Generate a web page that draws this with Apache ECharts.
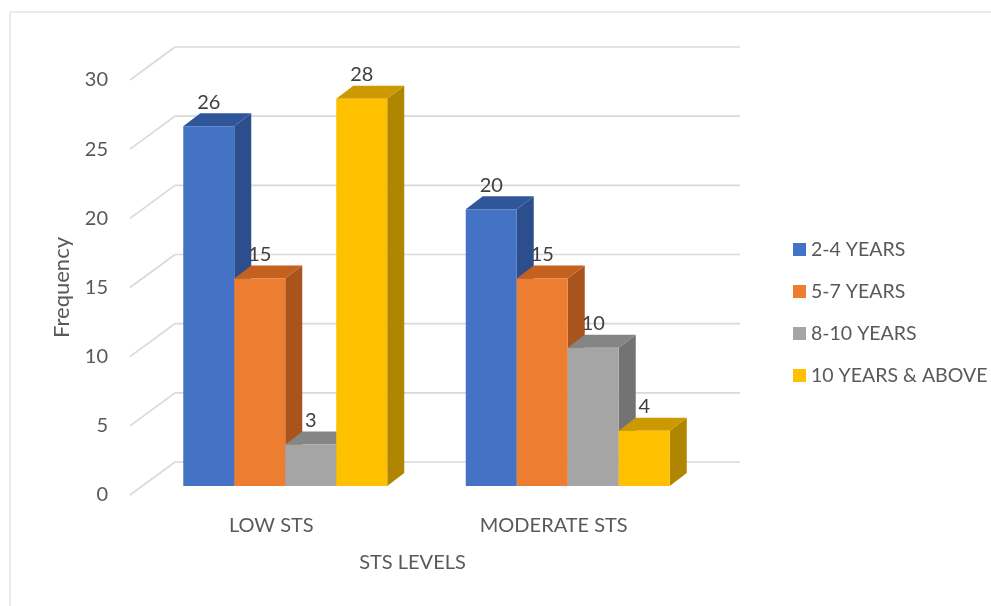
<!DOCTYPE html>
<html>
<head>
<meta charset="utf-8">
<title>STS levels by years of experience</title>
<script src="https://cdn.jsdelivr.net/npm/echarts@6/dist/echarts.min.js"></script>
<style>
  html, body { margin: 0; padding: 0; background: #ffffff; }
  #chart { width: 991px; height: 606px; }
</style>
</head>
<body>
<div id="chart"></div>
<script>
// ---- data ----
const categories = ['LOW STS', 'MODERATE STS'];
const seriesNames = ['2-4 YEARS', '5-7 YEARS', '8-10 YEARS', '10 YEARS & ABOVE'];
const years2to4 = [26, 20];
const years5to7 = [15, 15];
const years8to10 = [3, 10];
const years10plus = [28, 4];
const yTicks = [0, 5, 10, 15, 20, 25, 30];

// ---- look ----
const FONT = 'Lato';
const TEXT = '#595959';
const GRID_LINE = '#D9D9D9';
// face colours: front, top, side
const palette = [
  ['#4472C4', '#30569A', '#2C4E8C'],
  ['#ED7D31', '#C4611F', '#A9541C'],
  ['#A5A5A5', '#858585', '#737373'],
  ['#FFC000', '#CC9A00', '#B08500']
];
// depth of the plot box (front edge -> back wall)
const WALL_DX = 45, WALL_DY = -33;
// bars sit a little behind the front edge
const BAR_SHIFT_X = 14, BAR_SHIFT_Y = -9;
// depth of each bar
const BAR_DX = 17, BAR_DY = -13;
const BAR_RATIO = 0.1805;

const values = [years2to4, years5to7, years8to10, years10plus];

function wallRenderer(params, api) {
  const cs = params.coordSys;
  const v = api.value(1);
  const y = api.coord([0, v])[1];
  const x0 = cs.x;
  const bx = x0 + WALL_DX, by = y + WALL_DY;
  const style = { stroke: GRID_LINE, lineWidth: 1.6, fill: null };
  return {
    type: 'group',
    children: [
      { type: 'line', shape: { x1: x0, y1: y, x2: bx, y2: by }, style: style },
      { type: 'line', shape: { x1: bx, y1: by, x2: cs.x + cs.width + WALL_DX, y2: by }, style: style }
    ]
  };
}

function barRenderer(k) {
  const c = palette[k];
  return function (params, api) {
    const i = api.value(0);
    const v = api.value(1);
    const top = api.coord([i, v]);
    const base = api.coord([i, 0]);
    const band = api.size([1, 0])[0];
    const bw = band * BAR_RATIO;
    const x0 = top[0] + BAR_SHIFT_X - 2 * bw + k * bw;
    const x1 = x0 + bw;
    const yT = top[1] + BAR_SHIFT_Y;
    const yB = base[1] + BAR_SHIFT_Y;
    return {
      type: 'group',
      children: [
        {
          type: 'polygon',
          shape: { points: [[x1, yT], [x1 + BAR_DX, yT + BAR_DY], [x1 + BAR_DX, yB + BAR_DY], [x1, yB]] },
          style: { fill: c[2] }
        },
        {
          type: 'polygon',
          shape: { points: [[x0, yT], [x1, yT], [x1 + BAR_DX, yT + BAR_DY], [x0 + BAR_DX, yT + BAR_DY]] },
          style: { fill: c[1] }
        },
        {
          type: 'rect',
          shape: { x: x0, y: yT, width: bw, height: yB - yT },
          style: { fill: c[0] }
        },
        {
          type: 'text',
          x: x0 + bw / 2,
          y: yT + BAR_DY - 11,
          style: {
            text: String(v),
            align: 'center',
            verticalAlign: 'middle',
            fill: '#404040',
            font: '20px ' + FONT
          }
        }
      ]
    };
  };
}

const series = [
  {
    type: 'custom',
    name: 'wall',
    renderItem: wallRenderer,
    data: yTicks.map(function (t) { return [0, t]; }),
    encode: { x: 0, y: 1 },
    silent: true,
    z: 1
  }
];
seriesNames.forEach(function (name, k) {
  series.push({
    type: 'custom',
    name: name,
    renderItem: barRenderer(k),
    data: values[k].map(function (v, i) { return [i, v]; }),
    encode: { x: 0, y: 1 },
    itemStyle: { color: palette[k][0] },
    z: 2
  });
});

const chart = echarts.init(document.getElementById('chart'), null, { renderer: 'canvas' });
chart.setOption({
  animation: false,
  backgroundColor: '#ffffff',
  textStyle: { fontFamily: FONT, color: TEXT },
  graphic: [
    {
      type: 'rect',
      shape: { x: 10, y: 12, width: 1000, height: 640 },
      style: { fill: null, stroke: '#D9D9D9', lineWidth: 1 },
      silent: true,
      z: 0
    }
  ],
  grid: { left: 130, right: 296, top: 80, bottom: 111 },
  legend: {
    orient: 'vertical',
    left: 788,
    top: 234,
    data: seriesNames,
    icon: 'rect',
    itemWidth: 13,
    itemHeight: 13,
    itemGap: 21,
    textStyle: { fontFamily: FONT, fontSize: 19.5, color: TEXT, lineHeight: 21 },
    selectedMode: false
  },
  xAxis: {
    type: 'category',
    data: categories,
    boundaryGap: true,
    axisLine: { show: false },
    axisTick: { show: false },
    splitLine: { show: false },
    axisLabel: { fontFamily: FONT, fontSize: 20, color: TEXT, margin: 21 },
    name: 'STS LEVELS',
    nameLocation: 'middle',
    nameGap: 58,
    nameTextStyle: { fontFamily: FONT, fontSize: 20, color: TEXT }
  },
  yAxis: {
    type: 'value',
    min: 0,
    max: 30,
    interval: 5,
    axisLine: { show: false },
    axisTick: { show: false },
    splitLine: { show: false },
    axisLabel: { fontFamily: FONT, fontSize: 20, color: TEXT, margin: 22 },
    name: 'Frequency',
    nameLocation: 'middle',
    nameGap: 57,
    nameRotate: 90,
    nameTextStyle: { fontFamily: FONT, fontSize: 22, color: TEXT }
  },
  series: series
});
</script>
</body>
</html>
